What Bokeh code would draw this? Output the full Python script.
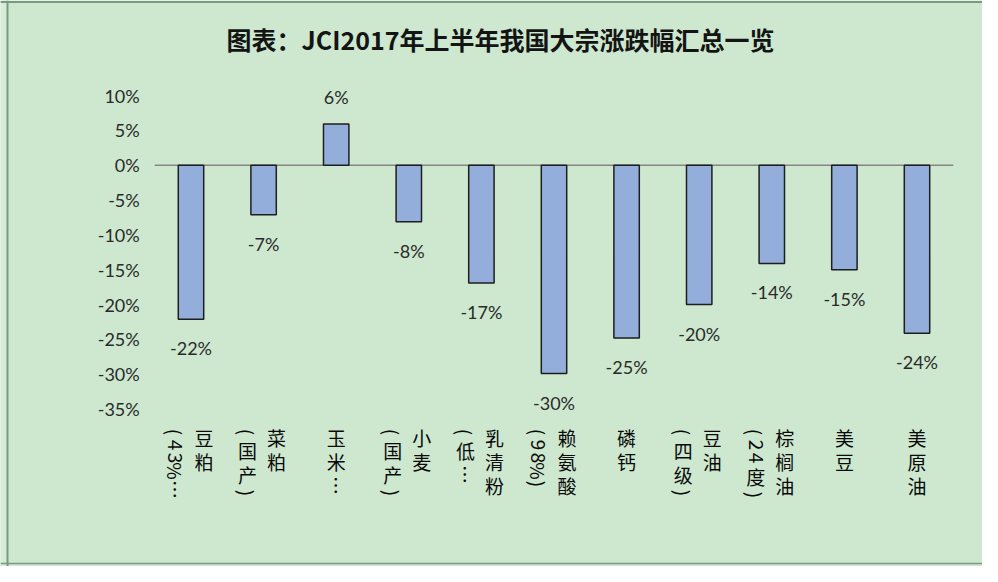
import numpy as np
from bokeh.plotting import figure
from bokeh.models import ColumnDataSource, Range1d, Span, Label, BoxAnnotation
from bokeh.core.properties import value
from bokeh.embed import file_html
from bokeh.resources import INLINE

# ---------------- data ----------------
title_text = "图表：JCI2017年上半年我国大宗涨跌幅汇总一览"
categories = ["豆粕(43%…", "菜粕(国产)", "玉米…", "小麦(国产)", "乳清粉(低…",
              "赖氨酸(98%)", "磷钙", "豆油(四级)", "棕榈油(24度)", "美豆", "美原油"]
changes = [-22.1, -7.1, 5.9, -8.1, -16.9, -29.9, -24.8, -20.0, -14.1, -15.0, -24.1]
y_ticks = [10, 5, 0, -5, -10, -15, -20, -25, -30, -35]
y_tick_labels = [f"{t}%" for t in y_ticks]
value_labels = [f"{round(v)}%" for v in changes]

# ---------------- layout (pixels) ----------------
W, H = 982, 566
CAT_PX = 72.6      # pixels per category
CAT0_X = 190.5     # x of first category centre
ZERO_Y = 164.7     # y of 0 %
PCT_PX = 6.97      # pixels per 1 %

BG = "#CDE8CF"
BG_OUT = "#D6EDD8"
BORDER = "#7C9783"
BAR_FILL = "#93AEDA"
BAR_LINE = "#1E1E1E"
TEXT = "#2A2A2A"
CJK = "Noto Sans CJK SC"
LAT = "Lato"

def px_to_x(px):
    return (px - CAT0_X) / CAT_PX

def px_to_y(py):
    return (ZERO_Y - py) / PCT_PX

x_start, x_end = px_to_x(0), px_to_x(W)
y_start, y_end = px_to_y(H), px_to_y(0)

p = figure(width=W, height=H, x_range=Range1d(x_start, x_end), y_range=Range1d(y_start, y_end),
           toolbar_location=None, output_backend="svg", min_border=0,
           x_axis_location=None, y_axis_location=None,
           background_fill_color=BG, border_fill_color=BG, outline_line_color=None)
p.grid.visible = False

# outer lighter strip and chart border
p.add_layout(BoxAnnotation(right=px_to_x(7), fill_color=BG_OUT, fill_alpha=1, line_color=None))
p.add_layout(BoxAnnotation(bottom=px_to_y(1.5), fill_color=BG_OUT, fill_alpha=1, line_color=None))
p.add_layout(Span(location=px_to_x(7), dimension="height", line_color=BORDER, line_width=2))
p.add_layout(Span(location=px_to_y(1.5), dimension="width", line_color=BORDER, line_width=2))
p.add_layout(Span(location=px_to_y(H - 3), dimension="width", line_color=BORDER, line_width=1.5))

n = len(categories)
xs = list(range(n))

# zero line
p.segment(x0=[-0.5], y0=[0], x1=[n - 0.5], y1=[0], line_color="#858585", line_width=1.5)

# bars
src = ColumnDataSource(dict(x=xs, v=changes, lab=value_labels,
                            off=[29 if v < 0 else -27 for v in changes]))
p.vbar(x="x", top="v", bottom=0, width=0.35, source=src,
       fill_color=BAR_FILL, line_color=BAR_LINE, line_width=1.5)

# value labels
p.text(x="x", y="v", text="lab", y_offset="off", source=src,
       text_align="center", text_baseline="middle",
       text_font=value(LAT), text_font_size="18px", text_color=TEXT)

# y tick labels
p.text(x=[-0.5] * len(y_ticks), y=y_ticks, text=y_tick_labels, x_offset=-15,
       text_align="right", text_baseline="middle",
       text_font=value(LAT), text_font_size="18px", text_color=TEXT)

# vertical category labels (CJK upright, others rotated clockwise)
cx, cy, ct, ca, coff = [], [], [], [], []
label_top = 16.3          # pixels below the lowest tick
for i, name in enumerate(categories):
    if "(" in name:
        k = name.index("(")
        cols = [name[:k], name[k:]]
    else:
        cols = [name]
    col_dx = [0] if len(cols) == 1 else [13 / CAT_PX, -16 / CAT_PX]
    for col, dx in zip(cols, col_dx):
        pos = label_top
        for ch in col:
            full = ord(ch) > 0x2E80 or ch == "…"
            adv = 24 if full else 13
            cx.append(i + dx)
            cy.append(min(y_ticks))
            ct.append(ch)
            ca.append(0 if ord(ch) > 0x2E80 else -np.pi / 2)
            coff.append(pos + adv / 2)
            pos += adv

lsrc = ColumnDataSource(dict(x=cx, y=cy, t=ct, a=ca, o=coff))
p.text(x="x", y="y", text="t", angle="a", y_offset="o", source=lsrc,
       text_align="center", text_baseline="middle",
       text_font=value(CJK), text_font_size="19px", text_color="#0A0A0A")

# title
p.add_layout(Label(x=px_to_x(500), y=px_to_y(38), text=title_text,
                   text_align="center", text_baseline="middle",
                   text_font=CJK, text_font_style="bold", text_font_size="25px",
                   text_color="#141414"))

open("out.html", "w").write(file_html(p, INLINE))
